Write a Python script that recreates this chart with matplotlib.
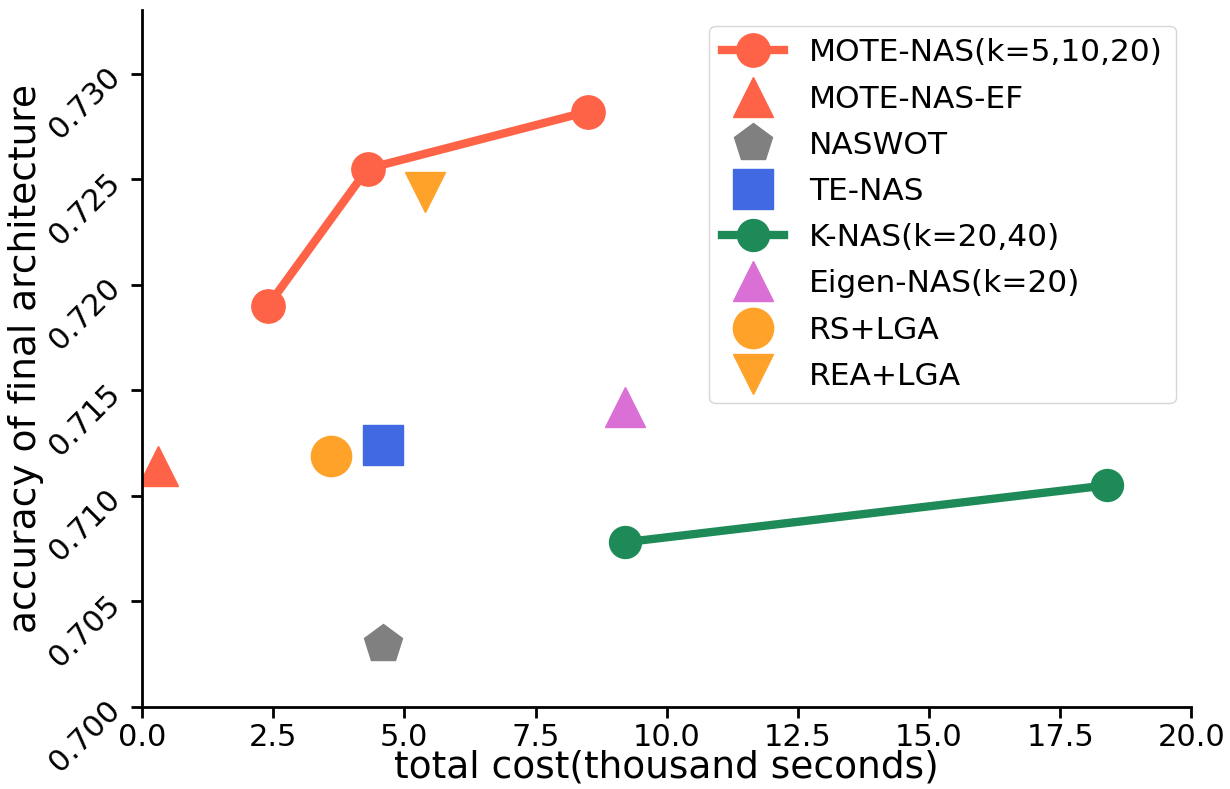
import matplotlib.pyplot as plt

# data
mote_cost = [2.4, 4.3, 8.5]
mote_acc = [0.7190, 0.7255, 0.7282]
knas_cost = [9.2, 18.4]
knas_acc = [0.7078, 0.7105]

mote_ef = (0.3, 0.7114)
naswot = (4.6, 0.7030)
tenas = (4.6, 0.7124)
eigen = (9.2, 0.7142)
rs_lga = (3.6, 0.7119)
rea_lga = (5.4, 0.7244)

plt.rcParams['font.size'] = 22

fig = plt.figure(figsize=(12.3, 7.89), dpi=100)
ax = fig.add_axes([0.1155, 0.104, 0.853, 0.883])

ax.plot(mote_cost, mote_acc, color='#FF6347', marker='o', markersize=24, linewidth=6,
        label='MOTE-NAS(k=5,10,20)')
ax.plot(*mote_ef, color='#FF6347', marker='^', markersize=29, linestyle='none',
        label='MOTE-NAS-EF')
ax.plot(*naswot, color='#808080', marker='p', markersize=29, linestyle='none',
        label='NASWOT')
ax.plot(*tenas, color='#4169E1', marker='s', markersize=29, linestyle='none',
        label='TE-NAS')
ax.plot(knas_cost, knas_acc, color='#1E8A58', marker='o', markersize=23, linewidth=6,
        label='K-NAS(k=20,40)')
ax.plot(*eigen, color='#DA70D6', marker='^', markersize=29, linestyle='none',
        label='Eigen-NAS(k=20)')
ax.plot(*rs_lga, color='#FFA22A', marker='o', markersize=29, linestyle='none',
        label='RS+LGA')
ax.plot(*rea_lga, color='#FFA22A', marker='v', markersize=29, linestyle='none',
        label='REA+LGA')

ax.set_xlim(0, 20)
ax.set_ylim(0.700, 0.733)
ax.set_yticks([0.700, 0.705, 0.710, 0.715, 0.720, 0.725, 0.730])
ax.set_yticklabels(['0.700', '0.705', '0.710', '0.715', '0.720', '0.725', '0.730'], rotation=45)
ax.spines['top'].set_visible(False)
ax.spines['right'].set_visible(False)
ax.spines['left'].set_linewidth(2)
ax.spines['bottom'].set_linewidth(2)
ax.tick_params(width=2, length=8)

ax.set_xlabel('total cost(thousand seconds)', fontsize=27, labelpad=-2)
ax.set_ylabel('accuracy of final architecture', fontsize=27, labelpad=0)
ax.legend(loc='upper right', fontsize=22.5, labelspacing=0.55,
          bbox_to_anchor=(1.0, 1.0))

plt.savefig('out.png', dpi=100)
